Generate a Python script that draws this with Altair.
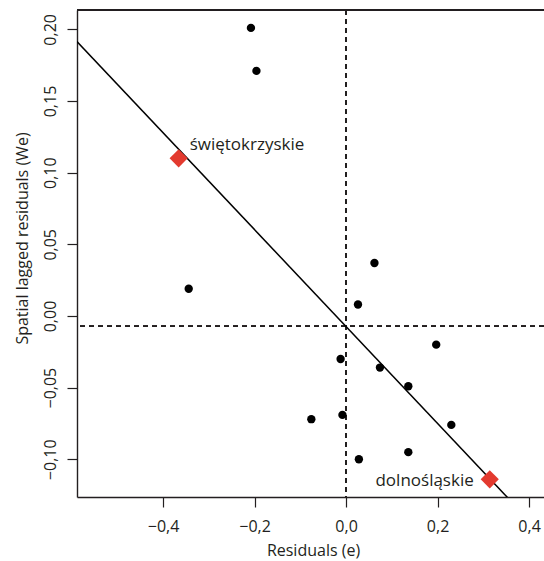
import altair as alt
import pandas as pd

# Moran scatterplot of regression residuals
resid_e = [-0.208, -0.196, -0.344, 0.062, 0.026, 0.197, -0.012, 0.074,
           0.136, -0.076, -0.008, 0.230, 0.136, 0.028]
lagged_we = [0.201, 0.171, 0.019, 0.037, 0.008, -0.020, -0.030, -0.036,
             -0.049, -0.072, -0.069, -0.076, -0.095, -0.100]

# highlighted voivodeships
hl_names = ["świętokrzyskie", "dolnośląskie"]
hl_e = [-0.366, 0.314]
hl_we = [0.110, -0.114]

# fitted line (slope = Moran's I) and the means drawn as dashed lines
slope = -0.338
intercept = -0.0074
mean_e = 0.0
mean_we = -0.0072

x_ticks = [-0.4, -0.2, 0.0, 0.2, 0.4]
y_ticks = [-0.10, -0.05, 0.0, 0.05, 0.10, 0.15, 0.20]
x_dom = [-0.5882, 0.4326]
y_dom = [-0.1263, 0.2135]

W, H = 467, 487
FONT = "Open Sans"
INK = "#231f20"
AX_FS = 16
LAB_FS = 17

pts = pd.DataFrame({"e": resid_e, "we": lagged_we})
hl = pd.DataFrame({"name": hl_names, "e": hl_e, "we": hl_we})
fit_x = [x_dom[0] - 0.05, x_dom[1] + 0.05]
fit = pd.DataFrame({"e": fit_x, "we": [intercept + slope * v for v in fit_x]})

xs = alt.Scale(domain=x_dom, nice=False, zero=False)
ys = alt.Scale(domain=y_dom, nice=False, zero=False)

x_axis = alt.Axis(
    values=x_ticks, title="Residuals (e)", grid=False,
    labelExpr="replace(format(datum.value, '.1f'), '.', ',')",
    tickSize=10, tickColor=INK, tickWidth=1.2, domainColor=INK, domainWidth=1.4,
    labelFont=FONT, labelFontSize=AX_FS, labelColor=INK, labelPadding=11,
    titleFont=FONT, titleFontSize=AX_FS, titleColor=INK, titleFontWeight="normal",
    titleX=236, titleY=58, titleAlign="center", titleBaseline="alphabetic",
)
y_axis = alt.Axis(
    values=y_ticks, title="Spatial lagged residuals (We)", grid=False,
    labelExpr="replace(format(datum.value, '.2f'), '.', ',')",
    labelAngle=270, labelAlign="center", labelBaseline="bottom",
    tickSize=10, tickColor=INK, tickWidth=1.2, domainColor=INK, domainWidth=1.4,
    labelFont=FONT, labelFontSize=AX_FS, labelColor=INK, labelPadding=9,
    titleFont=FONT, titleFontSize=AX_FS, titleColor=INK, titleFontWeight="normal",
    titleX=-55, titleY=228, titleAngle=270, titleAlign="center", titleBaseline="middle",
)

base_x = alt.X("e:Q", scale=xs, axis=x_axis)
base_y = alt.Y("we:Q", scale=ys, axis=y_axis)

top_border = alt.Chart(pts).mark_rule(color=INK, strokeWidth=1.4).encode(
    x=alt.value(0), x2=alt.value(W), y=alt.value(0)
)

v_mean = alt.Chart(pts).mark_rule(color=INK, strokeWidth=1, strokeDash=[5, 4]).encode(
    x=alt.datum(mean_e, scale=xs)
)
h_mean = alt.Chart(pts).mark_rule(color=INK, strokeWidth=1, strokeDash=[5, 4]).encode(
    y=alt.datum(mean_we, scale=ys)
)

fit_line = alt.Chart(fit).mark_line(color="black", strokeWidth=1.5, clip=True).encode(
    x=base_x, y=base_y
)

dots = alt.Chart(pts).mark_point(filled=True, shape="circle", size=70, color="black", opacity=1).encode(
    x=base_x, y=base_y
)

diamonds = alt.Chart(hl).mark_point(filled=True, shape="diamond", size=330, color="#e33a2f", opacity=1).encode(
    x=base_x, y=base_y
)

lab_left = alt.Chart(hl[hl["name"] == "świętokrzyskie"]).mark_text(
    align="left", baseline="middle", dx=11, dy=-13, font=FONT, fontSize=LAB_FS, color=INK
).encode(x=base_x, y=base_y, text="name:N")

lab_right = alt.Chart(hl[hl["name"] == "dolnośląskie"]).mark_text(
    align="right", baseline="middle", dx=-16, dy=2, font=FONT, fontSize=LAB_FS, color=INK
).encode(x=base_x, y=base_y, text="name:N")

chart = alt.layer(
    v_mean, h_mean, fit_line, dots, diamonds, lab_left, lab_right, top_border
).properties(
    width=W, height=H,
    padding={"left": 77, "top": 10, "right": 0, "bottom": 64},
    autosize=alt.AutoSizeParams(type="none"),
    background="white",
).configure_view(stroke=None)

chart.save("out.html", embed_options={"renderer": "svg", "actions": False})
